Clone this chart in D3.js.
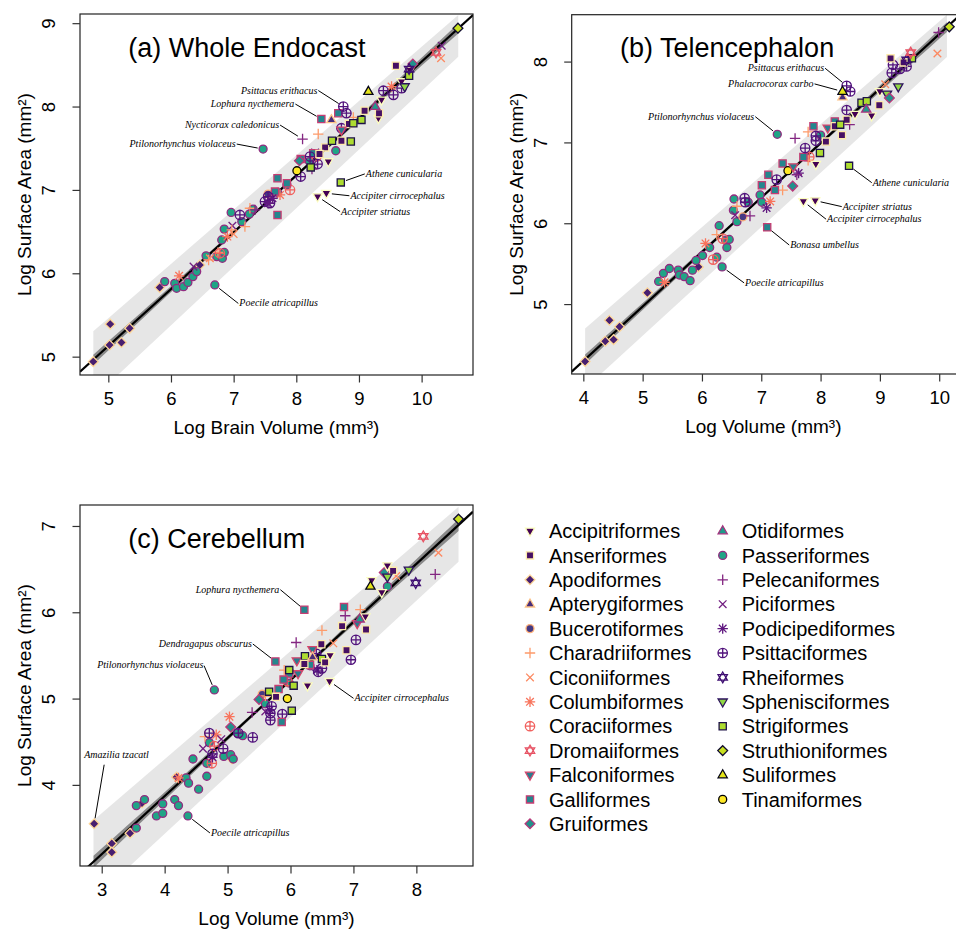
<!DOCTYPE html>
<html lang="en">
<head>
<meta charset="utf-8">
<title>Surface area vs volume</title>
<script src="https://d3js.org/d3.v7.min.js"></script>
<style>
  body { margin: 0; background: #fff; }
  svg text { font-family: "Liberation Sans", Arial, sans-serif; fill: #000; }
  text.note { font-family: "Liberation Serif", "Times New Roman", serif; font-style: italic; font-size: 10px; }
</style>
</head>
<body>
<script>
var orders = ["Accipitriformes", "Anseriformes", "Apodiformes", "Apterygiformes", "Bucerotiformes",
  "Charadriiformes", "Ciconiiformes", "Columbiformes", "Coraciiformes", "Dromaiiformes",
  "Falconiformes", "Galliformes", "Gruiformes", "Otidiformes", "Passeriformes",
  "Pelecaniformes", "Piciformes", "Podicipediformes", "Psittaciformes", "Rheiformes",
  "Sphenisciformes", "Strigiformes", "Struthioniformes", "Suliformes", "Tinamiformes"];
var codes = ["Acc", "Ans", "Apo", "Apt", "Buc", "Cha", "Cic", "Col", "Cor", "Dro",
  "Fal", "Gal", "Gru", "Oti", "Pas", "Pel", "Pic", "Pod", "Psi", "Rhe",
  "Sph", "Str", "Sth", "Sul", "Tin"];
// R plotting characters, one per order
var pchs = [25, 22, 23, 24, 21, 3, 4, 8, 10, 11, 25, 22, 23, 24, 21, 3, 4, 8, 10, 11, 25, 22, 23, 24, 21];

// log brain volume, log surface area
var endocast = [
  ["Apo",4.76,4.94],["Apo",5.02,5.14],["Apo",5.03,5.39],["Apo",5.21,5.17],["Apo",5.34,5.34],["Apo",5.82,5.83],["Apo",6.46,6.10],
  ["Pas",5.90,5.90],["Pas",6.06,5.88],["Pas",6.09,5.82],["Pas",6.20,5.84],["Pas",6.27,5.89],["Pas",6.35,5.96],["Pas",6.41,6.02],
  ["Pas",6.56,6.21],["Pas",6.73,6.20],["Pas",6.82,6.18],["Pas",6.85,6.25],["Pas",6.81,6.40],["Pas",6.85,6.53],["Pas",6.96,6.73],
  ["Pas",7.13,6.62],["Pas",7.25,6.71],["Pas",7.31,6.77],["Pas",7.70,6.97],["Pas",7.85,7.06],["Pas",8.21,7.34],["Pas",7.47,7.49],
  ["Pas",8.63,7.47],["Pas",6.70,5.86],
  ["Col",6.13,5.97],["Col",6.90,6.44],["Col",7.74,6.94],["Col",9.52,8.24],
  ["Pic",6.36,6.08],["Pic",6.98,6.57],["Pic",8.30,7.45],["Pic",10.32,8.73],
  ["Cha",6.60,6.16],["Cha",6.97,6.52],["Cha",7.18,6.56],["Cha",7.26,6.78],["Cha",8.35,7.67],["Cha",8.91,7.87],["Cha",6.75,6.25],
  ["Cic",6.62,6.18],["Cic",8.32,7.44],["Cic",10.31,8.58],["Cic",7.00,6.47],
  ["Cor",6.78,6.24],["Cor",7.90,7.00],["Cor",8.32,7.40],
  ["Buc",7.55,6.95],
  ["Gal",7.66,6.98],["Gal",7.70,7.14],["Gal",7.70,6.70],["Gal",7.85,7.08],["Gal",8.07,7.37],["Gal",8.27,7.44],["Gal",8.40,7.85],["Gal",8.67,7.92],
  ["Psi",7.10,6.70],["Psi",7.55,6.92],["Psi",7.58,6.84],["Psi",7.50,6.86],["Psi",8.07,7.16],["Psi",8.22,7.40],["Psi",8.34,7.31],
  ["Psi",8.72,7.74],["Psi",8.75,8.00],["Psi",8.80,7.92],["Psi",9.39,8.19],["Psi",9.55,8.14],["Psi",9.68,8.22],
  ["Pod",7.55,6.84],["Pod",7.62,6.90],["Pod",8.26,7.30],
  ["Pel",7.34,6.76],["Pel",8.10,7.61],["Pel",8.25,7.25],
  ["Tin",8.01,7.23],
  ["Acc",8.34,6.92],["Acc",8.48,6.96],["Acc",8.51,7.34],["Acc",9.31,7.86],["Acc",9.36,8.08],["Acc",9.68,8.30],["Acc",9.81,8.44],
  ["Ans",8.46,7.51],["Ans",8.72,7.59],["Ans",8.84,7.79],["Ans",9.09,7.95],["Ans",9.32,7.92],["Ans",9.59,8.49],["Ans",8.37,7.43],
  ["Str",8.23,7.27],["Str",8.57,7.59],["Str",8.87,7.58],["Str",8.91,7.80],["Str",9.04,7.84],["Str",9.80,8.37],["Str",8.71,7.09],
  ["Apt",8.56,7.84],
  ["Fal",8.72,7.72],["Sph",9.73,8.24],
  ["Oti",9.26,8.00],
  ["Gru",9.86,8.51],["Gru",8.05,7.35],
  ["Sul",9.15,8.18],
  ["Rhe",9.80,8.45],
  ["Dro",10.23,8.65],
  ["Sth",10.58,8.94]
];

// log telencephalon volume, log surface area
var telencephalon = [
  ["Apo",4.03,4.29],["Apo",4.37,4.54],["Apo",4.44,4.80],["Apo",4.51,4.56],["Apo",4.61,4.72],["Apo",5.08,5.14],["Apo",5.94,5.46],
  ["Pas",5.27,5.28],["Pas",5.35,5.38],["Pas",5.45,5.44],["Pas",5.60,5.42],["Pas",5.62,5.36],["Pas",5.70,5.34],["Pas",5.80,5.29],
  ["Pas",5.84,5.42],["Pas",5.90,5.54],["Pas",6.01,5.60],["Pas",6.13,5.70],["Pas",6.25,5.58],["Pas",6.29,5.97],["Pas",6.40,5.79],
  ["Pas",6.42,5.70],["Pas",6.46,5.80],["Pas",6.53,6.16],["Pas",6.54,6.30],["Pas",6.59,6.02],["Pas",6.78,6.26],["Pas",6.98,6.35],
  ["Pas",7.01,6.26],["Pas",7.74,6.82],["Pas",8.00,7.09],["Pas",7.27,7.10],["Pas",6.34,5.46],
  ["Col",7.15,6.27],["Col",6.06,5.75],["Col",5.37,5.27],
  ["Cor",7.81,6.82],["Cor",6.35,5.81],["Cor",6.19,5.55],
  ["Pod",7.63,6.62],["Pod",7.09,6.19],
  ["Pic",6.56,6.10],
  ["Buc",6.69,6.08],
  ["Cha",7.79,7.13],["Cha",7.79,6.78],["Cha",7.36,6.41],["Cha",6.59,6.21],["Cha",6.25,5.86],
  ["Pel",9.99,8.36],["Pel",7.57,7.05],["Pel",8.49,7.22],["Pel",7.60,6.60],["Pel",6.81,6.09],
  ["Gal",7.88,7.20],["Gal",8.24,7.26],["Gal",7.36,6.74],["Gal",7.12,6.60],["Gal",7.01,6.47],["Gal",7.23,6.41],["Gal",7.71,6.82],["Gal",7.10,5.95],
  ["Psi",9.22,7.96],["Psi",9.34,7.91],["Psi",9.45,7.94],["Psi",9.20,7.86],["Psi",8.44,7.70],["Psi",8.50,7.63],["Psi",8.44,7.40],
  ["Psi",7.92,7.08],["Psi",7.92,7.02],["Psi",7.74,6.93],["Psi",7.26,6.54],["Psi",6.72,6.31],["Psi",6.73,6.26],
  ["Tin",7.45,6.65],
  ["Fal",8.12,7.18],["Fal",7.54,6.70],
  ["Acc",9.00,7.63],["Acc",8.58,7.35],["Acc",8.86,7.33],["Acc",7.92,6.73],["Acc",7.71,6.27],["Acc",7.91,6.28],
  ["Ans",9.18,8.04],["Ans",9.40,7.99],["Ans",8.99,7.46],["Ans",8.44,7.28],["Ans",8.24,7.20],["Ans",8.36,7.09],["Ans",8.09,7.01],
  ["Str",9.54,8.04],["Str",8.69,7.49],["Str",8.78,7.51],["Str",8.33,7.22],["Str",7.99,6.87],["Str",8.48,6.71],
  ["Sph",9.31,7.69],["Sph",9.12,7.60],
  ["Apt",8.37,7.56],["Sul",8.37,7.63],
  ["Oti",8.77,7.41],
  ["Gru",9.16,7.55],["Gru",7.53,6.46],
  ["Cic",9.97,8.10],["Cic",9.09,7.72],
  ["Rhe",9.45,8.02],
  ["Dro",9.52,8.11],
  ["Sth",10.17,8.43]
];

// log cerebellum volume, log surface area
var cerebellum = [
  ["Apo",2.88,3.55],["Apo",3.16,3.32],["Apo",3.16,3.22],["Apo",3.45,3.44],["Apo",3.64,3.79],["Apo",4.19,4.09],["Apo",5.07,4.30],
  ["Pas",4.79,5.10],["Pas",4.37,3.64],["Pas",3.55,3.76],["Pas",3.68,3.83],["Pas",3.55,3.50],["Pas",3.87,3.64],["Pas",3.97,3.67],
  ["Pas",3.97,3.78],["Pas",4.16,3.83],["Pas",4.22,3.76],["Pas",4.34,4.08],["Pas",4.38,4.02],["Pas",4.54,3.95],["Pas",4.45,4.30],
  ["Pas",4.67,4.10],["Pas",4.67,4.25],["Pas",4.71,4.49],["Pas",4.94,4.33],["Pas",5.05,4.35],["Pas",5.09,4.30],["Pas",5.16,4.60],
  ["Pas",5.24,4.57],["Pas",5.60,4.94],["Pas",5.98,5.18],["Pas",6.31,5.38],["Pas",7.54,6.30],
  ["Col",5.03,4.79],["Col",4.82,4.58],["Col",4.22,4.08],
  ["Cor",4.79,4.45],["Cor",4.75,4.25],["Cor",5.95,5.20],
  ["Pod",5.67,4.87],["Pod",4.76,4.32],["Pod",6.42,5.33],
  ["Pic",4.61,4.42],["Pic",5.60,4.85],["Pic",4.90,4.53],
  ["Buc",5.55,5.05],
  ["Cha",7.11,6.03],["Cha",6.50,5.79],["Cha",5.90,5.33],["Cha",5.60,5.03],["Cha",4.64,4.56],
  ["Cic",8.35,6.69],["Cic",7.68,6.42],["Cic",6.68,5.64],
  ["Psi",7.04,5.68],["Psi",6.96,5.45],["Psi",6.41,5.52],["Psi",6.50,5.35],["Psi",6.44,5.31],["Psi",5.70,4.91],["Psi",5.68,4.83],
  ["Psi",5.68,4.75],["Psi",5.87,4.82],["Psi",5.40,4.55],["Psi",5.17,4.60],["Psi",4.93,4.42],["Psi",4.76,4.36],["Psi",4.71,4.60],
  ["Pel",8.30,6.44],["Pel",6.87,5.96],["Pel",6.09,5.65],["Pel",5.39,4.84],
  ["Gal",6.22,6.03],["Gal",5.76,5.43],["Gal",6.85,6.06],["Gal",5.98,5.29],["Gal",5.89,5.22],["Gal",5.81,5.11],["Gal",5.86,4.73],["Gal",6.31,5.39],
  ["Fal",6.35,5.57],["Fal",6.10,5.44],["Fal",6.12,5.29],["Fal",7.06,5.87],
  ["Str",6.23,5.49],["Str",6.50,5.46],["Str",5.98,5.33],["Str",6.05,5.15],["Str",5.66,5.08],["Str",6.02,4.86],
  ["Tin",5.95,5.00],
  ["Gru",7.49,6.46],["Gru",5.50,4.99],["Gru",5.05,4.67],
  ["Acc",7.54,6.54],["Acc",7.29,6.37],["Acc",7.45,6.23],["Acc",7.19,5.95],["Acc",6.63,5.50],["Acc",6.27,5.15],["Acc",6.62,5.20],
  ["Ans",7.63,6.48],["Ans",7.20,5.80],["Ans",6.82,5.84],["Ans",6.49,5.63],["Ans",6.89,5.56],["Ans",6.55,5.42],["Ans",6.22,5.40],["Ans",5.77,5.02],
  ["Sph",7.88,6.49],["Sph",7.54,6.41],
  ["Oti",7.10,5.92],
  ["Apt",6.35,5.48],
  ["Rhe",7.99,6.34],
  ["Sul",7.27,6.30],
  ["Dro",8.11,6.88],
  ["Sth",8.67,7.08]
];

// fitted line (intercept, slope)
var fitIntercept = [1.718, 1.602, 1.179];
var fitSlope = [0.682, 0.6736, 0.6727];

var tickA = [5, 6, 7, 8, 9, 10], tickAy = [5, 6, 7, 8, 9];
var tickB = [4, 5, 6, 7, 8, 9, 10], tickBy = [5, 6, 7, 8];
var tickC = [3, 4, 5, 6, 7, 8], tickCy = [4, 5, 6, 7];

// labelled species: name, x, y, leader end dx/dy, text dx/dy, anchor
var notesA = [
  ["Psittacus erithacus", 8.75, 8.00, -25, -16, -26, -13, "end"],
  ["Lophura nycthemera", 8.40, 7.85, -26, -15, -27, -12, "end"],
  ["Nycticorax caledonicus", 8.10, 7.61, -22.5, -14, -23.5, -11, "end"],
  ["Ptilonorhynchus violaceus", 7.47, 7.49, -26.4, -5, -27.4, -2, "end"],
  ["Athene cunicularia", 8.71, 7.09, 24, -8.5, 25, -5.5, "start"],
  ["Accipiter cirrocephalus", 8.48, 6.96, 23, 2.5, 24, 5.5, "start"],
  ["Accipiter striatus", 8.34, 6.92, 22.5, 15, 23.5, 18, "start"],
  ["Poecile atricapillus", 6.70, 5.86, 23.5, 18.5, 24.5, 21.5, "start"]
];
var notesB = [
  ["Psittacus erithacus", 8.44, 7.70, -21.6, -17.6, -22.6, -14.6, "end"],
  ["Phalacrocorax carbo", 8.37, 7.63, -28, -7.6, -29, -4.6, "end"],
  ["Ptilonorhynchus violaceus", 7.27, 7.10, -22, -17.7, -23, -14.7, "end"],
  ["Athene cunicularia", 8.48, 6.71, 22.7, 16.8, 23.7, 19.8, "start"],
  ["Accipiter striatus", 7.91, 6.28, 26.5, 6, 27.5, 9, "start"],
  ["Accipiter cirrocephalus", 7.71, 6.27, 22.7, 17.8, 23.7, 20.8, "start"],
  ["Bonasa umbellus", 7.10, 5.95, 22, 17.7, 23, 20.7, "start"],
  ["Poecile atricapillus", 6.34, 5.46, 22, 16, 23, 19, "start"]
];
var notesC = [
  ["Lophura nycthemera", 6.22, 6.03, -24, -20, -25, -17, "end"],
  ["Dendragapus obscurus", 5.76, 5.43, -22.6, -17.5, -23.6, -14.5, "end"],
  ["Ptilonorhynchus violaceus", 4.79, 5.10, -10.3, -24.3, -11, -22, "end"],
  ["Accipiter cirrocephalus", 6.62, 5.20, 24, 17, 25, 20, "start"],
  ["Amazilia tzacatl", 2.88, 3.55, 10, -59, -10, -66, "start"],
  ["Poecile atricapillus", 4.37, 3.64, 22, 17, 23, 20, "start"]
];

var panels = [
  {title: "(a) Whole Endocast", xlab: "Log Brain Volume (mm\u00b3)", box: [80, 14, 473, 375],
   xdom: [4.548, 10.82], ydom: [4.78, 9.11], xt: tickA, yt: tickAy, pts: endocast, k: 0, notes: notesA,
   band: [4.76, 10.585, 0.34, 0.16, -0.46, -0.34], ci: [0.015, 0.06]},
  {title: "(b) Telencephalon", xlab: "Log Volume (mm\u00b3)", box: [571.7, 14.7, 957, 374],
   xdom: [3.804, 10.30], ydom: [4.135, 8.58], xt: tickB, yt: tickBy, pts: telencephalon, k: 1, notes: notesB,
   band: [4.03, 10.13, 0.38, 0.155, -0.36, -0.37], ci: [0.015, 0.06]},
  {title: "(c) Cerebellum", xlab: "Log Volume (mm\u00b3)", box: [80, 505, 473, 866],
   xdom: [2.655, 8.90], ydom: [3.06, 7.243], xt: tickC, yt: tickCy, pts: cerebellum, k: 2, notes: notesC,
   band: [2.87, 8.67, 0.48, 0.21, -0.44, -0.425], ci: [0.02, 0.07]}
];

var W = 956, H = 931;
var svg = d3.select("body").append("svg").attr("width", W).attr("height", H);

function fillOf(i) { return d3.interpolateViridis(i / 24); }
function colOf(i) { return d3.interpolateMagma(1 - i / 24); }

function symPath(pch, cx, cy) {
  var r;
  switch (pch) {
    case 21: r = 4.0;
      return "M" + (cx - r) + "," + cy + "a" + r + "," + r + " 0 1,0 " + 2 * r + ",0a" + r + "," + r + " 0 1,0 " + (-2 * r) + ",0Z";
    case 22: r = 3.6;
      return "M" + (cx - r) + "," + (cy - r) + "h" + 2 * r + "v" + 2 * r + "h" + (-2 * r) + "Z";
    case 23: r = 4.9;
      return "M" + cx + "," + (cy - r) + "L" + (cx + r) + "," + cy + "L" + cx + "," + (cy + r) + "L" + (cx - r) + "," + cy + "Z";
    case 24:
      return "M" + cx + "," + (cy - 5.2) + "L" + (cx + 4.6) + "," + (cy + 2.8) + "L" + (cx - 4.6) + "," + (cy + 2.8) + "Z";
    case 25:
      return "M" + cx + "," + (cy + 5.2) + "L" + (cx + 4.6) + "," + (cy - 2.8) + "L" + (cx - 4.6) + "," + (cy - 2.8) + "Z";
    case 3: r = 5.2;
      return "M" + (cx - r) + "," + cy + "h" + 2 * r + "M" + cx + "," + (cy - r) + "v" + 2 * r;
    case 4: r = 3.8;
      return "M" + (cx - r) + "," + (cy - r) + "l" + 2 * r + "," + 2 * r + "M" + (cx - r) + "," + (cy + r) + "l" + 2 * r + "," + (-2 * r);
    case 8:
      return symPath(3, cx, cy) + symPath(4, cx, cy);
    case 10: r = 4.7;
      return "M" + (cx - r) + "," + cy + "a" + r + "," + r + " 0 1,0 " + 2 * r + ",0a" + r + "," + r + " 0 1,0 " + (-2 * r) + ",0Z" +
        "M" + (cx - r) + "," + cy + "h" + 2 * r + "M" + cx + "," + (cy - r) + "v" + 2 * r;
    case 11: r = 5.4;
      return "M" + cx + "," + (cy - r) + "L" + (cx + 0.866 * r) + "," + (cy + r / 2) + "L" + (cx - 0.866 * r) + "," + (cy + r / 2) + "Z" +
        "M" + cx + "," + (cy + r) + "L" + (cx + 0.866 * r) + "," + (cy - r / 2) + "L" + (cx - 0.866 * r) + "," + (cy - r / 2) + "Z";
  }
}

function styleSym(sel, idx) {
  sel.attr("fill", function(d) { var i = idx(d); return pchs[i] >= 21 ? fillOf(i) : "none"; })
    .attr("stroke", function(d) { return colOf(idx(d)); })
    .attr("stroke-width", 1.3);
}

panels.forEach(function(p, pi) {
  var L = p.box[0], T = p.box[1], R = p.box[2], B = p.box[3];
  var x = d3.scaleLinear().domain(p.xdom).range([L, R]);
  var y = d3.scaleLinear().domain(p.ydom).range([B, T]);
  var a = fitIntercept[p.k], b = fitSlope[p.k];
  var g = svg.append("g");

  var clipId = "clip" + pi;
  svg.append("clipPath").attr("id", clipId).append("rect")
    .attr("x", L).attr("y", T).attr("width", R - L).attr("height", B - T);
  var inner = g.append("g").attr("clip-path", "url(#" + clipId + ")");

  // prediction band
  var bd = p.band;
  var band = [
    [bd[0], a + b * bd[0] + bd[2]], [bd[1], a + b * bd[1] + bd[3]],
    [bd[1], a + b * bd[1] + bd[5]], [bd[0], a + b * bd[0] + bd[4]]
  ];
  inner.append("path")
    .attr("d", d3.line().x(function(d) { return x(d[0]); }).y(function(d) { return y(d[1]); })(band) + "Z")
    .attr("fill", "#e6e6e6");

  // confidence band around the fit
  var xm = (bd[0] + bd[1]) / 2, half = (bd[1] - bd[0]) / 2;
  var xs = d3.range(bd[0], bd[1] + 0.001, (bd[1] - bd[0]) / 40);
  function ciw(v) { var t = (v - xm) / half; return Math.sqrt(p.ci[0] * p.ci[0] + (p.ci[1] * p.ci[1] - p.ci[0] * p.ci[0]) * t * t); }
  inner.append("path")
    .datum(xs)
    .attr("d", d3.area().x(function(v) { return x(v); })
      .y0(function(v) { return y(a + b * v - ciw(v)); })
      .y1(function(v) { return y(a + b * v + ciw(v)); }))
    .attr("fill", "#8a8a8a");

  // fitted line across the whole plot
  inner.append("line")
    .attr("x1", x(p.xdom[0])).attr("y1", y(a + b * p.xdom[0]))
    .attr("x2", x(p.xdom[1])).attr("y2", y(a + b * p.xdom[1]))
    .attr("stroke", "#000").attr("stroke-width", 2.2);

  // points
  inner.selectAll("path.pt").data(p.pts).join("path")
    .attr("class", "pt")
    .attr("d", function(d) { return symPath(pchs[codes.indexOf(d[0])], x(d[1]), y(d[2])); })
    .call(styleSym, function(d) { return codes.indexOf(d[0]); });

  // leader lines and species names
  p.notes.forEach(function(n) {
    var px = x(n[1]), py = y(n[2]);
    var len = Math.sqrt(n[3] * n[3] + n[4] * n[4]);
    g.append("line")
      .attr("x1", px + n[3] * 5.5 / len).attr("y1", py + n[4] * 5.5 / len)
      .attr("x2", px + n[3]).attr("y2", py + n[4])
      .attr("stroke", "#000").attr("stroke-width", 1);
    g.append("text").attr("class", "note")
      .attr("x", px + n[5]).attr("y", py + n[6])
      .attr("text-anchor", n[7])
      .text(n[0]);
  });

  // box
  g.append("rect").attr("x", L).attr("y", T).attr("width", R - L).attr("height", B - T)
    .attr("fill", "none").attr("stroke", "#222").attr("stroke-width", 1.2);

  // axes
  var xa = g.append("g").attr("transform", "translate(0," + B + ")")
    .call(d3.axisBottom(x).tickValues(p.xt).tickSize(7.5).tickSizeOuter(0).tickPadding(9.5).tickFormat(d3.format("d")));
  var ya = g.append("g").attr("transform", "translate(" + L + ",0)")
    .call(d3.axisLeft(y).tickValues(p.yt).tickSize(7.5).tickSizeOuter(0).tickFormat(d3.format("d")));
  [xa, ya].forEach(function(ax) {
    ax.select(".domain").remove();
    ax.selectAll("line").attr("stroke", "#333").attr("stroke-width", 1.2);
    ax.selectAll("text").attr("font-size", 18.5).attr("font-family", "Liberation Sans, Arial, sans-serif");
  });
  ya.selectAll("text").attr("x", null).attr("dy", null)
    .attr("text-anchor", "middle").attr("transform", "translate(-25,0) rotate(-90)");

  // axis titles
  g.append("text").attr("x", (L + Math.min(R, 957)) / 2 + (pi === 1 ? -1 : 0)).attr("y", B + 59)
    .attr("text-anchor", "middle").attr("font-size", 19).text(p.xlab);
  g.append("text").attr("transform", "translate(" + (L - 49) + "," + ((T + B) / 2) + ") rotate(-90)")
    .attr("text-anchor", "middle").attr("font-size", 19).text("Log Surface Area (mm\u00b2)");

  // panel title
  g.append("text").attr("x", L + 48.3).attr("y", T + 42.7)
    .attr("font-size", 27).text(p.title);
});

// legend, two columns
var legRows = 13, legX = [530, 722.7], legY0 = 531, legStep = 24.4;
var leg = svg.append("g");
var items = leg.selectAll("g.item").data(orders).join("g").attr("class", "item")
  .attr("transform", function(d, i) {
    var c = i < legRows ? 0 : 1, r = i < legRows ? i : i - legRows;
    return "translate(" + legX[c] + "," + (legY0 + r * legStep) + ")";
  });
items.append("path")
  .attr("d", function(d, i) { return symPath(pchs[i], 0, 0); })
  .call(styleSym, function(d) { return orders.indexOf(d); });
items.append("text").attr("x", 19).attr("y", 7.2).attr("font-size", 20).text(function(d) { return d; });
</script>
</body>
</html>
